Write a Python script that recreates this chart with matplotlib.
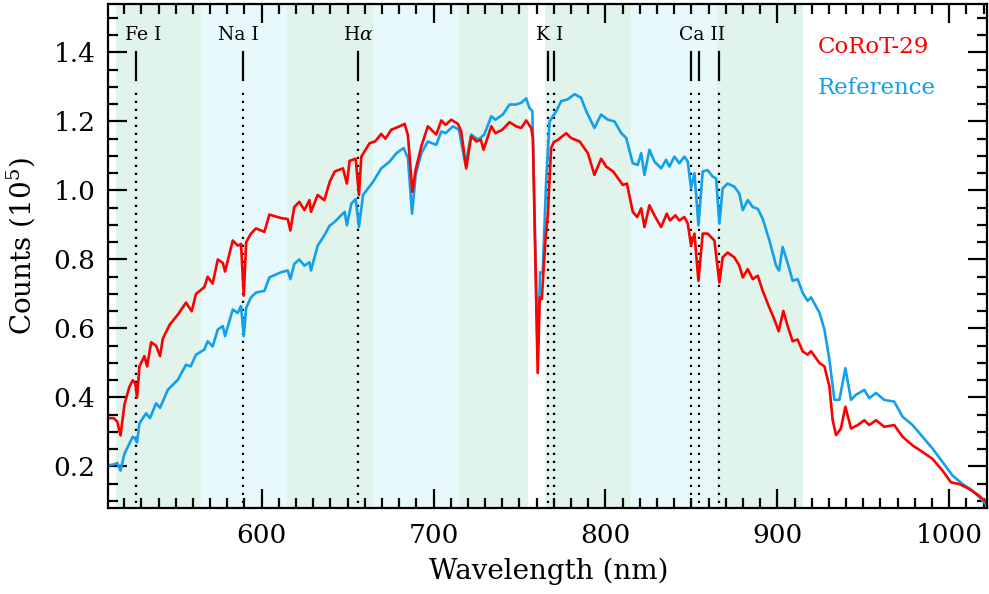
import numpy as np
import matplotlib
matplotlib.use('Agg')
import matplotlib.pyplot as plt
from matplotlib.ticker import MultipleLocator, FormatStrFormatter

# CoRoT-29 spectrum (wavelength in nm, counts in 1e5)
wl_corot = [510.5, 514, 516, 517.9, 520.2, 523, 525, 526.5, 527.5, 528.9,
            531.8, 533.4, 535.7, 538.6, 540.9, 542.5, 546.4, 551.2, 556.0, 559.3,
            561.8, 566.7, 568.6, 571.5, 574.5, 577.4, 578.7, 583.2, 586.1, 588.0,
            589.6, 591.0, 593.8, 596.7, 601.6, 604.5, 611.3, 615.2, 616.7, 619.0,
            621.9, 624.9, 627.8, 628.7, 632.6, 636.5, 639.6, 642.5, 647.3, 649.6,
            651.2, 654.7, 656.6, 658.0, 662.8, 666, 669.6, 672, 675.4, 680.3,
            683.2, 685.1, 687.7, 689.6, 692.9, 696.7, 701.6, 704.5, 707, 710.3,
            714.2, 716.1, 719.0, 721.9, 725, 727.5, 729.1, 733.6, 736, 740,
            744.2, 748, 751, 753.9, 756.8, 757.8, 760.6, 761.8, 763.0, 765,
            766.5, 768.4, 770, 772.4, 777.2, 780, 785, 789.8, 793.6, 797.5,
            800.5, 804.5, 810.1, 812.5, 815.9, 818.5, 820.8, 822.7, 825.6, 828.5,
            832.4, 835.7, 837.6, 840.7, 843, 845.9, 847.9, 849.8, 851.8, 854.1,
            856.6, 859.5, 863.4, 866.3, 868.2, 871.1, 875, 877.9, 879.9, 882.8,
            885.7, 888.6, 891.5, 895.4, 898.3, 900.8, 903.5, 906, 908.9, 911.8,
            914.7, 917.6, 919.6, 924.5, 927.4, 930.3, 932.2, 934.2, 937, 939.6,
            942.9, 946.8, 950.6, 953.5, 957.4, 962.2, 968, 972.9, 978.7, 984.5,
            990.3, 996.1, 1001, 1006, 1011.6, 1017.4, 1022]
flux_corot = [0.34, 0.34, 0.33, 0.29, 0.38, 0.43, 0.45, 0.44, 0.40, 0.49,
              0.52, 0.49, 0.56, 0.55, 0.52, 0.57, 0.61, 0.64, 0.675, 0.65,
              0.70, 0.72, 0.75, 0.73, 0.80, 0.79, 0.765, 0.855, 0.84, 0.845,
              0.695, 0.85, 0.875, 0.89, 0.88, 0.93, 0.92, 0.917, 0.884, 0.952,
              0.967, 0.943, 0.972, 0.938, 0.987, 0.972, 1.025, 1.055, 1.064, 1.02,
              1.086, 1.092, 0.987, 1.098, 1.137, 1.142, 1.164, 1.15, 1.176, 1.186,
              1.193, 1.16, 0.996, 1.06, 1.128, 1.186, 1.162, 1.203, 1.19, 1.205,
              1.193, 1.171, 1.064, 1.157, 1.142, 1.147, 1.118, 1.186, 1.166, 1.176,
              1.198, 1.186, 1.181, 1.203, 1.181, 1.15, 0.471, 0.69, 0.685, 0.85,
              0.93, 1.123, 1.14, 1.147, 1.166, 1.152, 1.142, 1.108, 1.045, 1.092,
              1.069, 1.055, 1.016, 1.02, 0.938, 0.923, 0.948, 0.894, 0.957, 0.928,
              0.894, 0.933, 0.913, 0.928, 0.913, 0.923, 0.904, 0.841, 0.875, 0.738,
              0.875, 0.875, 0.855, 0.733, 0.806, 0.82, 0.806, 0.782, 0.748, 0.772,
              0.743, 0.753, 0.709, 0.66, 0.626, 0.592, 0.651, 0.607, 0.563, 0.568,
              0.534, 0.524, 0.534, 0.5, 0.49, 0.432, 0.334, 0.291, 0.31, 0.373,
              0.31, 0.32, 0.334, 0.32, 0.334, 0.315, 0.32, 0.286, 0.261, 0.242,
              0.222, 0.188, 0.154, 0.149, 0.135, 0.115, 0.095]

# Reference star spectrum
wl_ref = [510.5, 514, 516, 517.9, 520.2, 525, 526.5, 527.5, 528.9, 532.8,
          535, 538.6, 540.9, 545.4, 551.2, 556.0, 558.7, 561.8, 566.7, 568.6,
          571.5, 574.5, 577.4, 578.7, 583.2, 586.1, 588.0, 589.6, 591.0, 593.8,
          596.7, 601.6, 604.5, 611.3, 615.2, 616.7, 619.0, 621.9, 624.9, 627.8,
          628.7, 632.6, 636.5, 639.4, 642.5, 648.3, 649.6, 652.2, 654.7, 656.6,
          659.0, 664.8, 669.6, 674.5, 678.4, 682.6, 685.1, 687.5, 689.6, 692.9,
          696.7, 701.6, 704.5, 707, 711.3, 714.8, 718.6, 721.9, 725.9, 729.5,
          733.6, 736, 740.3, 744.2, 748, 751, 753.9, 755.8, 757.5, 760.6,
          762.0, 763.5, 765.5, 767.5, 771.4, 774.3, 778, 782, 785.8, 788.8,
          793.6, 797.5, 801.4, 805.3, 809.2, 812.1, 815.9, 818.8, 820.8, 822.7,
          825.6, 828.5, 832.4, 835.3, 837.2, 840.1, 843, 845.9, 847.9, 849.8,
          851.8, 854.1, 856.6, 859.5, 862.4, 864.4, 866.3, 868.2, 871.1, 875,
          877.9, 879.9, 882.8, 885.7, 888.6, 891.5, 895.4, 899.3, 901, 903.1,
          906, 908.9, 911.8, 914.7, 917.6, 919.6, 924.5, 927.4, 930.3, 933.2,
          936.1, 939.6, 942.9, 945.8, 950.6, 953.5, 957.4, 962.2, 968, 972.9,
          978.7, 984.5, 990.3, 996.1, 1001.9, 1007.8, 1013.6, 1019.4, 1022.3]
flux_ref = [0.203, 0.206, 0.21, 0.188, 0.237, 0.286, 0.28, 0.27, 0.325, 0.354,
            0.34, 0.383, 0.37, 0.422, 0.451, 0.495, 0.49, 0.524, 0.539, 0.563,
            0.548, 0.597, 0.607, 0.578, 0.655, 0.645, 0.665, 0.578, 0.66, 0.69,
            0.704, 0.709, 0.748, 0.763, 0.768, 0.743, 0.787, 0.80, 0.782, 0.792,
            0.768, 0.84, 0.87, 0.897, 0.909, 0.938, 0.899, 0.962, 0.975, 0.894,
            0.987, 1.025, 1.064, 1.084, 1.108, 1.123, 1.094, 0.933, 1.045, 1.108,
            1.142, 1.132, 1.171, 1.166, 1.186, 1.176, 1.074, 1.162, 1.147, 1.162,
            1.215, 1.205, 1.22, 1.249, 1.249, 1.254, 1.267, 1.239, 1.23, 0.51,
            0.763, 0.76, 1.025, 1.2, 1.23, 1.259, 1.264, 1.279, 1.269, 1.23,
            1.181, 1.22, 1.205, 1.2, 1.166, 1.152, 1.079, 1.074, 1.108, 1.045,
            1.118, 1.084, 1.064, 1.089, 1.069, 1.098, 1.079, 1.098, 1.084, 1.006,
            1.05, 0.899, 1.055, 1.059, 1.04, 1.035, 0.904, 1.006, 1.02, 1.011,
            0.991, 0.943, 0.972, 0.952, 0.947, 0.918, 0.855, 0.782, 0.768, 0.836,
            0.79, 0.738, 0.743, 0.704, 0.68, 0.69, 0.646, 0.597, 0.51, 0.393,
            0.393, 0.485, 0.393, 0.408, 0.422, 0.398, 0.413, 0.393, 0.388, 0.344,
            0.32, 0.286, 0.252, 0.213, 0.174, 0.149, 0.13, 0.101, 0.086]

# Shaded wavelength bins
bin_lo = [515, 565, 615, 665, 715, 765, 815, 865]
bin_hi = [565, 615, 665, 715, 755, 815, 865, 915]
bin_col = ['#e0f4ec', '#e8f9fc', '#e0f4ec', '#e8f9fc',
           '#e0f4ec', '#e0f4ec', '#e8f9fc', '#e0f4ec']

# Spectral lines and their labels
line_wl = [527.0, 589.3, 656.3, 766.5, 769.9, 849.8, 854.2, 866.2]
label_txt = ['Fe I', 'Na I', r'H$\alpha$', 'K I', 'Ca II']
label_wl = [531.0, 586.5, 656.3, 767.5, 856.0]

RED = '#ff0000'
BLUE = '#12a0ea'


def main():
    plt.rcParams['font.family'] = ['DejaVu Serif']
    plt.rcParams['mathtext.fontset'] = 'dejavuserif'

    fig = plt.figure(figsize=(9.89, 5.94), dpi=100)
    ax = fig.add_axes([0.109, 0.145, 0.889, 0.848])

    for lo, hi, c in zip(bin_lo, bin_hi, bin_col):
        ax.axvspan(lo, hi, color=c, lw=0, zorder=0)

    # line markers: short solid tick, then dotted line down to the axis
    for w in line_wl:
        ax.plot([w, w], [1.32, 1.40], color='k', lw=1.6, zorder=1)
        ax.plot([w, w], [0.0, 1.30], color='k', lw=1.6,
                ls=(0, (1, 2.6)), zorder=1)
    for t, w in zip(label_txt, label_wl):
        ax.text(w, 1.45, t, ha='center', va='center', fontsize=13.5,
                zorder=3)

    ax.plot(wl_ref, flux_ref, color=BLUE, lw=1.9, zorder=2)
    ax.plot(wl_corot, flux_corot, color=RED, lw=1.9, zorder=2)

    ax.text(0.807, 0.915, 'CoRoT-29', color=RED, fontsize=16.5,
            transform=ax.transAxes, va='center')
    ax.text(0.807, 0.833, 'Reference', color=BLUE, fontsize=16.5,
            transform=ax.transAxes, va='center')

    ax.set_xlim(510.5, 1022)
    ax.set_ylim(0.08, 1.54)
    ax.xaxis.set_major_locator(MultipleLocator(100))
    ax.xaxis.set_minor_locator(MultipleLocator(10))
    ax.yaxis.set_major_locator(MultipleLocator(0.2))
    ax.yaxis.set_minor_locator(MultipleLocator(0.05))
    ax.yaxis.set_major_formatter(FormatStrFormatter('%.1f'))

    ax.tick_params(which='both', direction='in', top=True, right=True,
                   width=1.6, labelsize=19)
    ax.tick_params(which='major', length=14)
    ax.tick_params(axis='x', which='major', pad=11)
    ax.tick_params(axis='y', which='major', pad=9)
    ax.tick_params(which='minor', length=7)
    for s in ax.spines.values():
        s.set_linewidth(1.6)

    ax.set_xlabel('Wavelength (nm)', fontsize=20)
    ax.xaxis.set_label_coords(0.502, -0.098)
    ax.set_ylabel(r'Counts (10$^5$)', fontsize=20)
    ax.yaxis.set_label_coords(-0.08, 0.52)

    fig.savefig('out.png', dpi=100)


if __name__ == '__main__':
    main()
